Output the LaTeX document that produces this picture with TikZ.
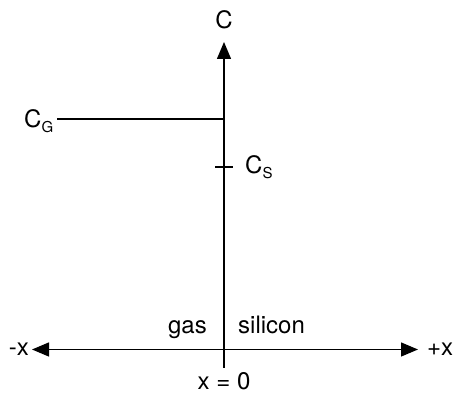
\documentclass[tikz,border=0pt]{standalone}
\usepackage{fontspec}
\setmainfont{TeX Gyre Heros}
\usetikzlibrary{arrows.meta}
\newcommand{\lowsub}[1]{\raisebox{-5pt}{\fontsize{15}{18}\selectfont #1}}
\begin{document}
\begin{tikzpicture}[x=1pt,y=1pt,
  axis/.style={line width=1.3pt,-{Triangle[length=17pt,width=14pt]}},
  plain/.style={line width=1.3pt},
  lbl/.style={inner sep=0pt,font=\fontsize{24}{28}\selectfont}]
\useasboundingbox (0,0) rectangle (453,393);
\coordinate (O) at (224,43.5);
\coordinate (top) at (224,351);
\coordinate (bot) at (224,25);
\coordinate (left) at (32,43.5);
\coordinate (right) at (418,43.5);
\coordinate (cga) at (57,274);
\coordinate (cgb) at (224,274);
\coordinate (csa) at (215,226);
\coordinate (csb) at (233,226);
\draw[axis] (bot) -- (top);
\draw[axis] (O) -- (left);
\draw[axis] (O) -- (right);
\draw[plain] (cga) -- (cgb);
\draw[plain] (csa) -- (csb);
\node[lbl] (c) at (224,373) {C};
\node[lbl,anchor=base west] (cg) at (24,265) {C\lowsub{G}};
\node[lbl,anchor=base west] (cs) at (245,219) {C\lowsub{S}};
\node[lbl,anchor=east] (mx) at (29,44) {-x};
\node[lbl,anchor=west] (px) at (427,44) {+x};
\node[lbl] (x0) at (224,12) {x = 0};
\node[lbl,anchor=base east] (gas) at (207,59) {gas};
\node[lbl,anchor=base west] (si) at (238,59) {silicon};
\end{tikzpicture}
\end{document}
